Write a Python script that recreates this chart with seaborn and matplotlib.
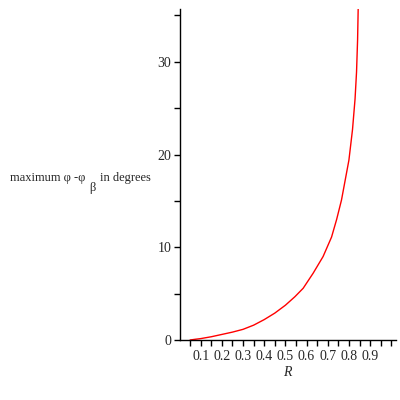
import numpy as np
import pandas as pd
import seaborn as sns
import matplotlib.pyplot as plt
from matplotlib.ticker import FixedLocator

sns.set_style("ticks")
plt.rcParams['font.family'] = ['Liberation Serif', 'DejaVu Serif']

# values
R = [0.05, 0.075, 0.1, 0.15, 0.2, 0.25, 0.3, 0.35, 0.4, 0.45, 0.5, 0.545,
     0.584, 0.631, 0.678, 0.718, 0.742, 0.765, 0.8, 0.817, 0.829, 0.836,
     0.841, 0.844]
max_diff = [0.0, 0.08, 0.15, 0.35, 0.6, 0.85, 1.15, 1.6, 2.2, 2.9, 3.75, 4.67,
            5.58, 7.2, 9.0, 11.1, 13.0, 15.1, 19.4, 22.7, 26.0, 28.9,
            32.4, 36.0]

x_major = [0.1, 0.2, 0.3, 0.4, 0.5, 0.6, 0.7, 0.8, 0.9]
x_minor = [0.05, 0.15, 0.25, 0.35, 0.45, 0.55, 0.65, 0.75, 0.85, 0.95, 1.0]
y_major = [0, 10, 20, 30]
y_minor = [5, 15, 25, 35]

df = pd.DataFrame({"R": R, "val": max_diff})

fig = plt.figure(figsize=(4, 4), dpi=100)
ax = fig.add_axes([179.5 / 400, 0.15, 216 / 400, 331 / 400])
sns.lineplot(data=df, x="R", y="val", color="red", lw=1, ax=ax, sort=False)

ax.set_xlim(0, 1.02)
ax.set_ylim(0, 35.7)
sns.despine(ax=ax)
for s in ["left", "bottom"]:
    ax.spines[s].set_color("black")
    ax.spines[s].set_linewidth(1)

ax.xaxis.set_major_locator(FixedLocator(x_major))
ax.xaxis.set_minor_locator(FixedLocator(x_minor))
ax.yaxis.set_major_locator(FixedLocator(y_major))
ax.yaxis.set_minor_locator(FixedLocator(y_minor))
ax.set_xticklabels([f"{v:.1f}" for v in x_major])
ax.set_yticklabels([str(v) for v in y_major])
ax.tick_params(which="both", length=4, width=1, color="black", labelsize=10,
               pad=2, direction="out")
ax.tick_params(axis="x", pad=3)

ax.set_xlabel("R", style="italic", fontsize=10, labelpad=2)
ax.set_ylabel("")

fig.text(10 / 400, 1 - 181 / 400, "maximum φ -φ", fontsize=9,
         ha="left", va="baseline")
fig.text(100 / 400, 1 - 181 / 400, "in degrees", fontsize=9,
         ha="left", va="baseline")
fig.text(89 / 400, 1 - 191 / 400, "β", fontsize=9, ha="left", va="baseline")

fig.savefig("out.png", dpi=100)
